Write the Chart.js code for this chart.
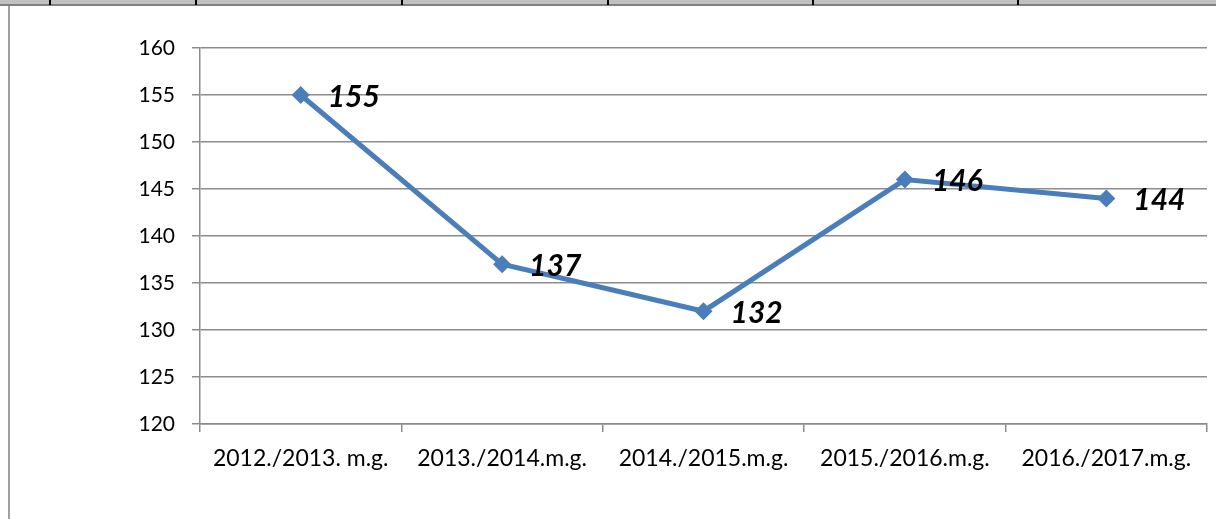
<!DOCTYPE html>
<html>
<head>
<meta charset="utf-8">
<script src="https://cdn.jsdelivr.net/npm/chart.js@4"></script>
<style>
  html, body { margin: 0; padding: 0; background: #fff; }
  #wrap { position: relative; width: 1216px; height: 519px; overflow: hidden; }
  .band { position: absolute; left: 0; top: 0; width: 1216px; height: 4px; background: #c0c0c0; }
  .rule { position: absolute; left: 0; top: 4px; width: 1216px; height: 2px; background: #7f7f7f; }
  .sep { position: absolute; top: 0; width: 2px; height: 5px; background: #000; }
  .leftEdge { position: absolute; left: 8px; top: 6px; width: 2px; height: 513px; background: #a0a0a0; }
  canvas { position: absolute; left: 0; top: 0; }
</style>
</head>
<body>
<div id="wrap">
  <div class="band"></div>
  <div class="rule"></div>
  <div class="sep" style="left:49px"></div>
  <div class="sep" style="left:195px"></div>
  <div class="sep" style="left:401px"></div>
  <div class="sep" style="left:607px"></div>
  <div class="sep" style="left:812px"></div>
  <div class="sep" style="left:1017px"></div>
  <div class="leftEdge"></div>
  <canvas id="chart" width="1216" height="519"></canvas>
</div>
<script>
// tanévek és értékek
const YEARS = [
  "2012./2013. m.g.",
  "2013./2014.m.g.",
  "2014./2015.m.g.",
  "2015./2016.m.g.",
  "2016./2017.m.g.",
];
const COUNTS = [155, 137, 132, 146, 144];
const Y_MIN = 120;
const Y_MAX = 160;
const Y_STEP = 5;

const LINE = "#4a7ebb";
const GRID = "#8c8c8c";
const FONT = '"Lato", "Open Sans", sans-serif';

// értékcímkék a pontoktól jobbra, félkövér dőlt
const valueLabels = {
  id: "valueLabels",
  afterDatasetsDraw(chart) {
    const { ctx } = chart;
    const meta = chart.getDatasetMeta(0);
    ctx.save();
    ctx.font = "italic bold 30px " + FONT;
    ctx.fillStyle = "#000";
    ctx.textAlign = "left";
    ctx.textBaseline = "middle";
    meta.data.forEach((pt, i) => {
      ctx.fillText(String(COUNTS[i]), pt.x + 27, pt.y + 2);
    });
    ctx.restore();
  },
};

new Chart(document.getElementById("chart"), {
  type: "line",
  data: {
    labels: YEARS,
    datasets: [
      {
        data: COUNTS,
        borderColor: LINE,
        backgroundColor: LINE,
        borderWidth: 5,
        pointStyle: "rectRot",
        pointRadius: 9,
        pointHoverRadius: 9,
        pointBorderWidth: 0,
        tension: 0,
      },
    ],
  },
  options: {
    responsive: false,
    animation: false,
    events: [],
    layout: { padding: { left: 0, right: 4, top: 48, bottom: 0 } },
    plugins: { legend: { display: false }, tooltip: { enabled: false } },
    scales: {
      x: {
        offset: true,
        grid: {
          offset: true,
          drawOnChartArea: false,
          drawTicks: true,
          tickLength: 8,
          color: GRID,
          lineWidth: 1.5,
        },
        border: { color: GRID, width: 1.5 },
        ticks: {
          color: "#000",
          font: { family: FONT, size: 23 },
          padding: 13,
          maxRotation: 0,
          autoSkip: false,
        },
        afterFit: (s) => {
          s.height = 95;
          s.paddingLeft = 0;
          s.paddingRight = 0;
        },
      },
      y: {
        min: Y_MIN,
        max: Y_MAX,
        grid: { color: GRID, lineWidth: 1.5, tickLength: 8 },
        border: { color: GRID, width: 1.5 },
        ticks: {
          stepSize: Y_STEP,
          color: "#000",
          font: { family: FONT, size: 21 },
          padding: 17,
        },
        afterFit: (s) => { s.width = 200; },
      },
    },
  },
  plugins: [valueLabels],
});
</script>
</body>
</html>
